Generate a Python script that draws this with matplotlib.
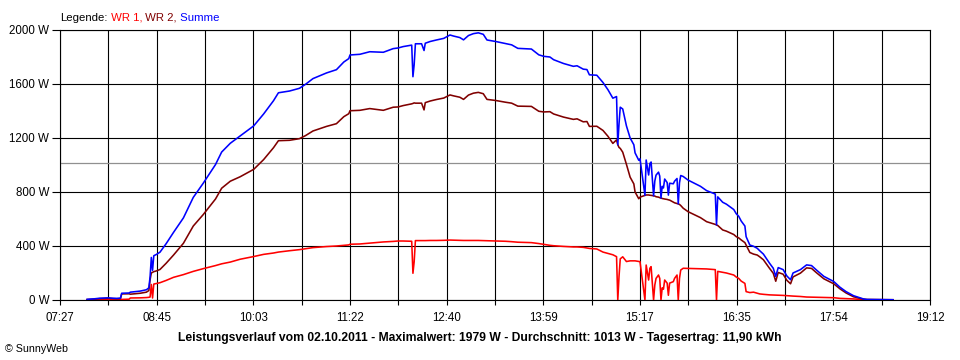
import matplotlib
matplotlib.use("Agg")
import matplotlib.pyplot as plt
import numpy as np
from matplotlib.ticker import FixedLocator, FixedFormatter, NullFormatter

plt.rcParams['font.family'] = ['Liberation Sans', 'DejaVu Sans']

# ---------------- data ----------------
times = ["07:49", "07:55", "07:59", "08:06", "08:10", "08:13", "08:16", "08:17", "08:23", "08:24",
         "08:32", "08:37", "08:39", "08:40", "08:41", "08:42", "08:43", "08:45", "08:48", "08:53",
         "08:59", "09:07", "09:15", "09:23", "09:33", "09:38", "09:45", "09:53", "10:04", "10:12",
         "10:20", "10:24", "10:33", "10:41", "10:46", "10:52", "11:03", "11:11", "11:17", "11:21",
         "11:22", "11:30", "11:38", "11:49", "11:57", "12:01", "12:05", "12:12", "12:13", "12:14",
         "12:15", "12:20", "12:22", "12:23", "12:27", "12:32", "12:38", "12:43", "12:46", "12:51",
         "12:54", "12:58", "13:02", "13:06", "13:10", "13:13", "13:20", "13:28", "13:33", "13:38",
         "13:49", "13:55", "13:59", "14:04", "14:07", "14:15", "14:23", "14:26", "14:31", "14:34",
         "14:36", "14:42", "14:47", "14:51", "14:55", "14:58", "14:59", "15:00", "15:01", "15:03",
         "15:06", "15:09", "15:12", "15:13", "15:16", "15:17", "15:21", "15:22", "15:24", "15:25",
         "15:26", "15:28", "15:29", "15:30", "15:32", "15:33", "15:34", "15:35", "15:36", "15:37",
         "15:39", "15:40", "15:41", "15:44", "15:45", "15:47", "15:48", "15:49", "15:50", "15:52",
         "15:56", "16:06", "16:11", "16:18", "16:19", "16:20", "16:24", "16:27", "16:33", "16:35",
         "16:37", "16:39", "16:42", "16:43", "16:46", "16:49", "16:52", "16:54", "16:57", "17:02",
         "17:05", "17:07", "17:09", "17:13", "17:16", "17:19", "17:21", "17:27", "17:32", "17:36",
         "17:40", "17:46", "17:54", "17:59", "18:04", "18:10", "18:18", "18:21", "18:31", "18:42"]

wr1 = [2, 3, 3, 4, 3, 3, 4, 5, 6, 15,
       16, 18, 20, 22, 115, 15, 118, 122, 128, 145,
       168, 188, 212, 232, 255, 268, 281, 302, 322, 338,
       348, 355, 365, 373, 380, 388, 396, 400, 405, 408,
       413, 415, 421, 430, 434, 437, 437, 435, 198, 284,
       440, 440, 440, 440, 441, 441, 442, 444, 443, 442,
       441, 441, 441, 441, 440, 440, 437, 435, 432, 428,
       425, 418, 412, 405, 402, 397, 393, 393, 390, 385,
       382, 378, 355, 345, 335, 321, 0, 175, 305, 320,
       285, 290, 290, 290, 285, 284, 0, 259, 148, 235,
       247, 0, 111, 160, 185, 160, 0, 90, 80, 148,
       125, 35, 125, 136, 160, 185, 0, 160, 222, 235,
       234, 232, 230, 225, 0, 212, 205, 200, 185, 170,
       160, 140, 123, 62, 55, 58, 50, 45, 42, 38,
       37, 36, 36, 34, 32, 30, 29, 26, 22, 21,
       20, 18, 17, 12, 10, 8, 2, 0, 0, 0]

wr2 = [3, 6, 10, 12, 10, 9, 10, 45, 46, 43,
       50, 58, 70, 150, 200, 205, 210, 215, 226, 272,
       333, 420, 548, 632, 748, 828, 880, 913, 968, 1040,
       1128, 1180, 1183, 1195, 1218, 1252, 1286, 1306, 1358, 1380,
       1402, 1405, 1418, 1405, 1428, 1430, 1440, 1453, 1456, 1460,
       1458, 1458, 1408, 1462, 1474, 1485, 1496, 1519, 1512, 1502,
       1486, 1518, 1532, 1538, 1528, 1486, 1478, 1465, 1458, 1436,
       1434, 1398, 1393, 1395, 1378, 1355, 1338, 1342, 1320, 1322,
       1286, 1287, 1256, 1213, 1160, 1186, 1150, 1130, 1123, 1095,
       1005, 910, 860, 800, 750, 762, 775, 778, 778, 776,
       775, 772, 770, 765, 762, 758, 755, 752, 750, 748,
       745, 742, 740, 725, 720, 715, 712, 708, 700, 680,
       654, 610, 580, 560, 556, 552, 519, 510, 485, 469,
       460, 445, 425, 407, 352, 340, 333, 320, 298, 234,
       198, 139, 204, 191, 146, 120, 171, 199, 238, 234,
       202, 157, 120, 83, 52, 24, 6, 4, 3, 2]

summe = [5, 9, 13, 16, 13, 12, 14, 50, 52, 58,
         66, 76, 90, 172, 315, 220, 328, 337, 354, 417,
         501, 608, 760, 864, 1003, 1096, 1161, 1215, 1290, 1378,
         1476, 1535, 1548, 1568, 1598, 1640, 1682, 1706, 1763, 1788,
         1815, 1820, 1839, 1835, 1862, 1867, 1877, 1888, 1654, 1744,
         1898, 1898, 1848, 1902, 1915, 1926, 1938, 1963, 1955, 1944,
         1927, 1959, 1973, 1979, 1968, 1926, 1915, 1900, 1890, 1864,
         1859, 1816, 1805, 1800, 1780, 1752, 1731, 1735, 1710, 1707,
         1668, 1665, 1611, 1558, 1495, 1507, 1150, 1305, 1428, 1415,
         1290, 1200, 1150, 1090, 1035, 1046, 775, 1037, 926, 1011,
         1022, 772, 881, 925, 947, 918, 755, 842, 830, 896,
         870, 777, 865, 861, 880, 900, 712, 868, 922, 915,
         888, 842, 810, 785, 556, 764, 724, 710, 670, 639,
         620, 585, 548, 469, 407, 398, 383, 365, 340, 272,
         235, 175, 240, 225, 178, 150, 200, 225, 260, 255,
         222, 175, 137, 95, 62, 32, 8, 4, 3, 2]

average_w = 1013
y_ticks = [0, 400, 800, 1200, 1600, 2000]
y_labels = ["0 W", "400 W", "800 W", "1200 W", "1600 W", "2000 W"]
x_labels = ["07:27", "08:45", "10:03", "11:22", "12:40", "13:59", "15:17", "16:35", "17:54", "19:12"]
x_start, x_end = "07:27", "19:12"

legend_parts = ["Legende:", " WR 1,", " WR 2,", " Summe"]
legend_colors = ["#000000", "#FF0000", "#800000", "#0000FF"]
title = ("Leistungsverlauf vom 02.10.2011 - Maximalwert: 1979 W - "
         "Durchschnitt: 1013 W - Tagesertrag: 11,90 kWh")
copyright_text = "\u00a9 SunnyWeb"

# ---------------- drawing ----------------
def to_min(s):
    h, m = s.split(":")
    return int(h) * 60 + int(m)

t = np.array([to_min(s) for s in times])
t0, t1 = to_min(x_start), to_min(x_end)

W, H = 960, 360
fig = plt.figure(figsize=(W / 100, H / 100), dpi=100)
fig.patch.set_facecolor("white")
ax = fig.add_axes([60 / W, 60 / H, 870 / W, 270 / H])

ax.plot(t, wr1, color="#FF0000", lw=1.15, zorder=3)
ax.plot(t, wr2, color="#800000", lw=1.15, zorder=3.1)
ax.plot(t, summe, color="#0000FF", lw=1.15, zorder=3.2)
ax.axhline(average_w, color="#909090", lw=0.9, zorder=1.5)

ax.set_xlim(t0, t1)
ax.set_ylim(0, 2000)

all_x = np.linspace(t0, t1, 2 * (len(x_labels) - 1) + 1)
ax.xaxis.set_major_locator(FixedLocator(all_x[::2]))
ax.xaxis.set_major_formatter(FixedFormatter(x_labels))
ax.xaxis.set_minor_locator(FixedLocator(all_x[1::2]))
ax.xaxis.set_minor_formatter(NullFormatter())
ax.yaxis.set_major_locator(FixedLocator(y_ticks))
ax.yaxis.set_major_formatter(FixedFormatter(y_labels))

ax.tick_params(axis="x", which="both", direction="out", length=3.6, width=0.8,
               color="black", labelsize=8.3, pad=5)
ax.tick_params(axis="y", which="major", direction="out", length=5.8, width=0.8,
               color="black", labelsize=8.3, pad=2)

ax.grid(True, axis="x", which="both", color="black", lw=0.8, zorder=1)
ax.grid(True, axis="y", which="major", color="black", lw=0.8, zorder=1)
ax.set_axisbelow(True)
for sp in ax.spines.values():
    sp.set_color("black")
    sp.set_linewidth(0.8)

# multi-coloured legend line
renderer = fig.canvas.get_renderer()
xpos = 60 / W
for txt, col in zip(legend_parts, legend_colors):
    tt = fig.text(xpos, 1 - 21 / H, txt, color=col, fontsize=8.2, ha="left", va="baseline")
    bb = tt.get_window_extent(renderer=renderer)
    xpos = bb.x1 / fig.bbox.width

fig.text(480 / W, 1 - 338 / H, title, ha="center", va="center", fontsize=8.75, fontweight="bold")
fig.text(5 / W, 1 - 349 / H, copyright_text, ha="left", va="center", fontsize=7.7)

fig.savefig("out.png", dpi=100)
